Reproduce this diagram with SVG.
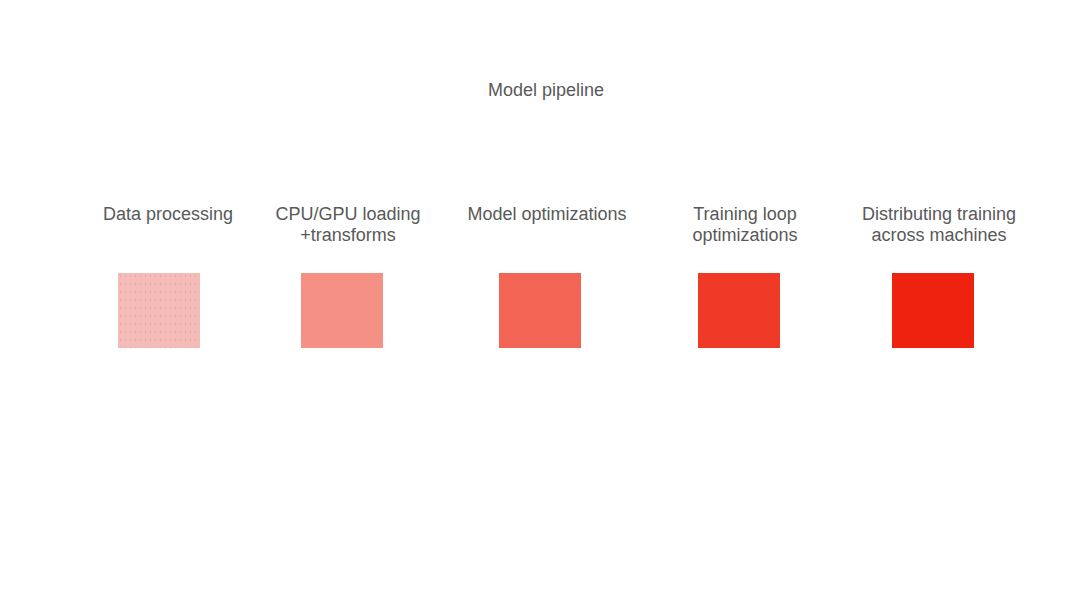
<svg xmlns="http://www.w3.org/2000/svg" width="1080" height="608" viewBox="0 0 1080 608">
<style>
text{font-family:"Liberation Sans",Arial,sans-serif;font-size:18px;fill:#595959;text-anchor:middle}
</style>
<defs>
<pattern id="dots" x="118" y="273" width="5" height="8" patternUnits="userSpaceOnUse">
<rect width="5" height="8" fill="#f4bcb8"/>
<circle cx="2.5" cy="3" r="0.6" fill="#f0857a"/>
</pattern>
</defs>
<rect width="1080" height="608" fill="#ffffff"/>
<text id="title" x="546" y="96">Model pipeline</text>
<g id="connectors"></g>
<g id="n1"><text x="168" y="220">Data processing</text><rect x="118" y="273" width="82" height="75" fill="url(#dots)"/></g>
<g id="n2"><text x="348" y="220">CPU/GPU loading</text><text x="348" y="241">+transforms</text><rect x="301" y="273" width="82" height="75" fill="#f59085"/></g>
<g id="n3"><text x="547" y="220">Model optimizations</text><rect x="499" y="273" width="82" height="75" fill="#f26555"/></g>
<g id="n4"><text x="745" y="220">Training loop</text><text x="745" y="241">optimizations</text><rect x="698" y="273" width="82" height="75" fill="#ef3a28"/></g>
<g id="n5"><text x="939" y="220">Distributing training</text><text x="939" y="241">across machines</text><rect x="892" y="273" width="82" height="75" fill="#ee220e"/></g>
</svg>
